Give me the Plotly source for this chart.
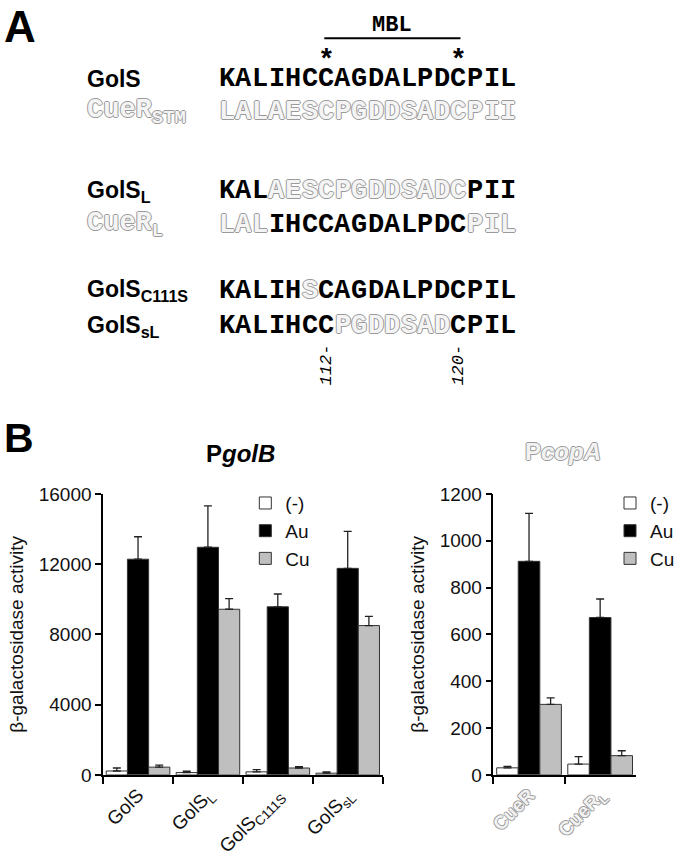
import plotly.graph_objects as go

W, H = 680, 860

# ---- panel B data ----
golb_groups = ["GolS", "GolS<sub>L</sub>", "GolS<sub>C111S</sub>", "GolS<sub>sL</sub>"]
golb_none = [220, 130, 170, 95]
golb_none_err = [170, 75, 125, 75]
golb_au = [12280, 12960, 9570, 11760]
golb_au_err = [1280, 2360, 730, 2110]
golb_cu = [440, 9430, 390, 8500]
golb_cu_err = [110, 610, 75, 520]

copa_groups = ["CueR", "CueR<sub>L</sub>"]
copa_none = [30, 46]
copa_none_err = [6, 32]
copa_au = [912, 672]
copa_au_err = [205, 79]
copa_cu = [301, 82]
copa_cu_err = [28, 21]

treatments = ["(-)", "Au", "Cu"]
bar_colors = ["white", "black", "#bfbfbf"]

# ---- panel A data ----
seq_labels = ["GolS", "CueR<sub>STM</sub>", "GolS<sub>L</sub>", "CueR<sub>L</sub>",
              "GolS<sub>C111S</sub>", "GolS<sub>sL</sub>"]
seq_texts = ["KALIHCCAGDALPDCPIL", "LALAESCPGDDSADCPII", "KALAESCPGDDSADCPII",
             "LALIHCCAGDALPDCPIL", "KALIHSCAGDALPDCPIL", "KALIHCCPGDDSADCPIL"]
# 1 = residue from CueR (drawn as grey outline)
seq_masks = ["000000000000000000", "111111111111111111", "000111111111111000",
             "111000000000000111", "000001000000000000", "000000011111110000"]
label_is_cuer = [False, True, False, True, False, False]
row_y = [71, 105, 186, 220, 288, 324]
residue_marks = ["112-", "120-"]
mark_index = [6, 14]

OUTLINE = "1px 0 #9a9a9a, -1px 0 #9a9a9a, 0 1px #9a9a9a, 0 -1px #9a9a9a"
SANS = "Arial, Liberation Sans, sans-serif"
MONO = "Courier New, Liberation Mono, monospace"


def px(x):
    return x / W


def py(y):
    return 1 - y / H


fig = go.Figure()

panels = [
    (golb_groups, [golb_none, golb_au, golb_cu], [golb_none_err, golb_au_err, golb_cu_err], "x", "y", "legend"),
    (copa_groups, [copa_none, copa_au, copa_cu], [copa_none_err, copa_au_err, copa_cu_err], "x2", "y2", "legend2"),
]
for groups, vals, errs, xa, ya, leg in panels:
    for name, v, e, c in zip(treatments, vals, errs, bar_colors):
        fig.add_trace(go.Bar(
            x=groups, y=v, name=name, xaxis=xa, yaxis=ya, legend=leg,
            marker=dict(color=c, line=dict(color="#333333", width=1)),
            error_y=dict(type="data", array=e, arrayminus=[0] * len(e), symmetric=False,
                         color="#222222", thickness=1.3, width=4),
        ))

axis_font = dict(family=SANS, size=19, color="#111111")
ydom = [py(784), py(496)]
common_x = dict(showline=True, linecolor="black", linewidth=1.5, ticks="outside",
                tickson="boundaries", ticklen=7, tickwidth=1.5, tickcolor="black",
                tickangle=-45, showgrid=False, zeroline=False)
common_y = dict(showline=True, linecolor="black", linewidth=1.5, ticks="outside",
                ticklen=6, tickwidth=1.5, tickcolor="black", showgrid=False,
                zeroline=False, tickfont=axis_font, tickformat="d")

fig.update_layout(
    width=W, height=H, margin=dict(l=0, r=0, t=0, b=0),
    paper_bgcolor="white", plot_bgcolor="white",
    barmode="group", bargap=0.09, bargroupgap=0,
    font=dict(family=SANS, color="#111111"),
    xaxis=dict(domain=[px(100), px(385)], anchor="y", tickfont=axis_font, **common_x),
    yaxis=dict(domain=ydom, anchor="x", range=[0, 16000], dtick=4000,
               title=dict(text="β-galactosidase activity", font=axis_font, standoff=10), **common_y),
    xaxis2=dict(domain=[px(498), px(643)], anchor="y2",
                tickfont=dict(family=SANS, size=19, color="#f2f2f2", weight="bold", shadow=OUTLINE),
                **common_x),
    yaxis2=dict(domain=ydom, anchor="x2", range=[0, 1200], dtick=200,
                title=dict(text="β-galactosidase activity", font=axis_font, standoff=10), **common_y),
    legend=dict(x=px(245), y=py(486), xanchor="left", yanchor="top",
                font=dict(family=SANS, size=19, color="#111111"),
                bgcolor="rgba(0,0,0,0)", tracegroupgap=0),
    legend2=dict(x=px(617), y=py(486), xanchor="left", yanchor="top",
                 font=dict(family=SANS, size=19, color="#111111"),
                 bgcolor="rgba(0,0,0,0)", tracegroupgap=0),
)

ann = []
# panel letters
ann.append(dict(text="<b>A</b>", x=px(-3), y=py(-10), xanchor="left", yanchor="top",
                font=dict(family=SANS, size=44, color="black")))
ann.append(dict(text="<b>B</b>", x=px(-3), y=py(413), xanchor="left", yanchor="top",
                font=dict(family=SANS, size=41, color="black")))
# chart titles
ann.append(dict(text="<b>P<i>golB</i></b>", x=px(240), y=py(455), xanchor="center",
                yanchor="middle", font=dict(family=SANS, size=24, color="black")))
ann.append(dict(text="<b>P<i>copA</i></b>", x=px(569), y=py(453), xanchor="center",
                yanchor="middle", font=dict(family=SANS, size=24, color="#f2f2f2", shadow=OUTLINE)))

# sequences
x0, cw = 218, 16.85
for lab, seq, mask, cuer, yy in zip(seq_labels, seq_texts, seq_masks, label_is_cuer, row_y):
    if cuer:
        lf = dict(family=MONO, size=27, color="#f4f4f4", weight="bold", shadow=OUTLINE)
    else:
        lf = dict(family=SANS, size=23, color="black", weight="bold")
    ann.append(dict(text=lab, x=px(82), y=py(yy), xanchor="left", yanchor="middle", font=lf))
    for i, (ch, m) in enumerate(zip(seq, mask)):
        if m == "1":
            f = dict(family=MONO, size=27, color="#f4f4f4", weight="bold", shadow=OUTLINE)
        else:
            f = dict(family=MONO, size=27, color="black", weight="bold")
        ann.append(dict(text=ch, x=px(x0 + (i + 0.5) * cw), y=py(yy), xanchor="center",
                        yanchor="middle", font=f))

# MBL bracket
xa_ = x0 + (mark_index[0] + 0.5) * cw
xb_ = x0 + (mark_index[1] + 0.5) * cw
ann.append(dict(text="<b>MBL</b>", x=px((xa_ + xb_) / 2), y=py(16), xanchor="center",
                yanchor="middle", font=dict(family=MONO, size=22, color="black")))
for k in mark_index:
    ann.append(dict(text="<b>*</b>", x=px(x0 + (k + 0.5) * cw), y=py(52), xanchor="center",
                    yanchor="middle", font=dict(family=MONO, size=28, color="black")))
for k, t in zip(mark_index, residue_marks):
    ann.append(dict(text=t, x=px(x0 + (k + 0.5) * cw), y=py(364), textangle=-90,
                    xanchor="center", yanchor="middle",
                    font=dict(family=MONO, size=17, color="black", style="italic")))

for a in ann:
    a.update(xref="paper", yref="paper", showarrow=False)
fig.update_layout(annotations=ann)
fig.add_shape(type="line", xref="paper", yref="paper", x0=px(xa_ - 2), x1=px(xb_ + 2),
              y0=py(29), y1=py(29), line=dict(color="black", width=2))

# drop the default page margin so the 680x860 figure fills the window exactly
fig.write_html("out.html", config={"displayModeBar": False},
               post_script="document.body.style.margin='0';")
